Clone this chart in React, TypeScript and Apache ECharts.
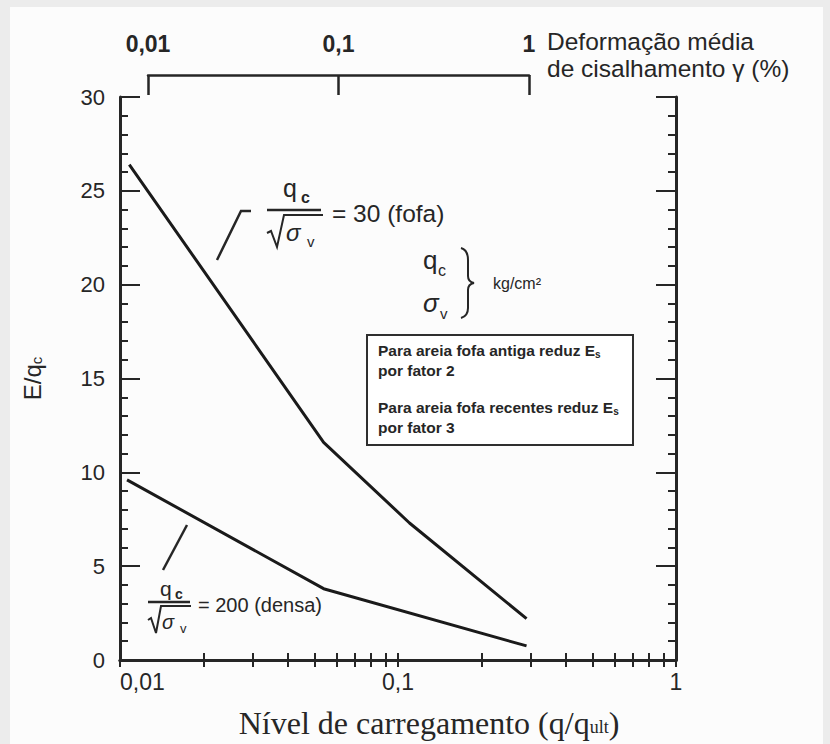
import React, { useEffect, useRef } from 'react';
import * as echarts from 'echarts';

// ---- data ----
const LOAD_FOFA = [0.0108, 0.054, 0.11, 0.29];
const EQ_FOFA = [26.4, 11.6, 7.3, 2.2];
const LOAD_DENSA = [0.0106, 0.054, 0.29];
const EQ_DENSA = [9.6, 3.8, 0.75];

const X_TICK_VALUES = [0.01, 0.02, 0.03, 0.04, 0.05, 0.06, 0.07, 0.08, 0.09, 0.1, 0.2, 0.3, 0.4, 0.5, 0.6, 0.7, 0.8, 0.9, 1];
const X_LABEL_VALUES = [0.01, 0.1, 1];
const GAMMA_VALUES = [0.01, 0.1, 1];
const Y_MIN = 0;
const Y_MAX = 30;
const Y_STEP = 5;

const SANS = '"Liberation Sans", Arial, Helvetica, sans-serif';
const SERIF = '"Liberation Serif", "Times New Roman", serif';
const INK = '#262626';

echarts.graphic.registerShape(
  'brace',
  echarts.graphic.extendPath('M461 248 Q468 250 468 260 L468 276 Q468 282 474 283 Q468 284 468 290 L468 308 Q468 316 461 318', {})
);

const fmt = (v: number) => String(Number(v.toPrecision(3))).replace('.', ',');

const txt = (x: number, y: number, text: string, fontSize: number, extra: any = {}) => ({
  type: 'text',
  x,
  y,
  style: {
    text,
    fontSize,
    fontFamily: SANS,
    fill: INK,
    align: 'left',
    verticalAlign: 'middle',
    ...extra,
  },
});

const stroke = { stroke: INK, fill: null as any };

const boxRich = {
  b: { fontSize: 15.5, fontWeight: 'bold', fontFamily: SANS, lineHeight: 20, fill: INK },
  s: { fontSize: 10, fontWeight: 'bold', fontFamily: SANS, lineHeight: 20, fill: INK, padding: [8, 0, 0, 0] },
};

const graphicElements: any[] = [
  // upper formula
  { type: 'polyline', shape: { points: [[217, 260], [241, 211], [251, 211]] }, style: { ...stroke, lineWidth: 2.5 } },
  txt(283, 188, 'q', 25),
  txt(301, 197, 'c', 16, { fontWeight: 'bold' }),
  { type: 'line', shape: { x1: 267, y1: 210, x2: 321, y2: 210 }, style: { ...stroke, lineWidth: 2.5 } },
  { type: 'polyline', shape: { points: [[267, 233], [271, 231], [277, 247], [284, 215], [323, 215]] }, style: { ...stroke, lineWidth: 2 } },
  txt(286, 232, 'σ', 24, { fontStyle: 'italic' }),
  txt(307, 241, 'v', 15),
  txt(332, 213, '= 30 (fofa)', 24.5),
  // lower formula
  { type: 'line', shape: { x1: 187, y1: 525, x2: 163, y2: 570 }, style: { ...stroke, lineWidth: 2.5 } },
  txt(160, 588, 'q', 21),
  txt(175, 594, 'c', 14, { fontWeight: 'bold' }),
  { type: 'line', shape: { x1: 148, y1: 602, x2: 190, y2: 602 }, style: { ...stroke, lineWidth: 2.5 } },
  { type: 'polyline', shape: { points: [[148, 620], [151, 618], [156, 633], [161, 606], [191, 606]] }, style: { ...stroke, lineWidth: 2 } },
  txt(162, 622, 'σ', 20, { fontStyle: 'italic' }),
  txt(180, 628, 'v', 13),
  txt(198, 605, '= 200 (densa)', 20),
  // units
  txt(423, 260, 'q', 26),
  txt(438, 270, 'c', 16),
  txt(423, 303, 'σ', 26, { fontStyle: 'italic' }),
  txt(440, 313, 'v', 15),
  { type: 'brace', x: 0, y: 0, style: { stroke: INK, fill: 'none', lineWidth: 2 } },
  txt(493, 283, 'kg/cm²', 16),
  // note box
  { type: 'rect', shape: { x: 367, y: 335, width: 266, height: 110 }, style: { fill: '#ffffff', stroke: '#2f2f2f', lineWidth: 2 } },
  {
    type: 'text',
    x: 378,
    y: 340,
    style: { text: '{b|Para areia fofa antiga reduz E}{s|s}\n{b|por fator 2}', fill: INK, verticalAlign: 'top', rich: boxRich },
  },
  {
    type: 'text',
    x: 378,
    y: 397,
    style: { text: '{b|Para areia fofa recentes reduz E}{s|s}\n{b|por fator 3}', fill: INK, verticalAlign: 'top', rich: boxRich },
  },
  // top scale title
  txt(547, 41, 'Deformação média', 24.5),
  txt(547, 68, 'de cisalhamento γ (%)', 24.5),
];

const frameLine = { show: true, lineStyle: { color: INK, width: 3 } };
const tickLine = { color: INK, width: 2 };

const option: any = {
  animation: false,
  backgroundColor: 'transparent',
  grid: [
    { left: 120, top: 97, right: 154, bottom: 82, containLabel: false },
    { left: 148, top: 65, width: 381, height: 10, containLabel: false },
  ],
  xAxis: [
    {
      type: 'log',
      gridIndex: 0,
      position: 'bottom',
      min: 0.01,
      max: 1,
      logBase: 10,
      axisLine: frameLine,
      axisTick: { show: true, inside: true, length: 7, customValues: X_TICK_VALUES, lineStyle: tickLine },
      minorTick: { show: false },
      splitLine: { show: false },
      axisLabel: {
        customValues: X_LABEL_VALUES,
        formatter: fmt,
        fontSize: 23,
        fontFamily: SANS,
        color: INK,
        margin: 10,
        alignMinLabel: 'left',
      },
      name: 'Nível de carregamento (q/q{s|ult})',
      nameLocation: 'middle',
      nameGap: 47,
      nameTextStyle: {
        fontFamily: SERIF,
        fontSize: 32,
        color: INK,
        padding: [0, 0, 0, 62],
        rich: { s: { fontFamily: SERIF, fontSize: 18, color: INK, padding: [8, 0, 0, 0] } },
      },
    },
    {
      type: 'log',
      gridIndex: 0,
      position: 'top',
      min: 0.01,
      max: 1,
      logBase: 10,
      axisLine: frameLine,
      axisTick: { show: true, inside: true, length: 7, customValues: X_TICK_VALUES, lineStyle: tickLine },
      splitLine: { show: false },
      axisLabel: { show: false },
    },
    {
      type: 'log',
      gridIndex: 1,
      position: 'top',
      min: 0.01,
      max: 1,
      logBase: 10,
      axisLine: { show: true, lineStyle: { color: INK, width: 2.5 } },
      axisTick: { show: true, inside: true, length: 20, customValues: GAMMA_VALUES, lineStyle: { color: INK, width: 2.5 } },
      splitLine: { show: false },
      axisLabel: {
        customValues: GAMMA_VALUES,
        formatter: fmt,
        fontSize: 23,
        fontWeight: 'bold',
        fontFamily: SANS,
        color: INK,
        margin: 10,
      },
    },
  ],
  yAxis: [
    {
      type: 'value',
      gridIndex: 0,
      position: 'left',
      min: Y_MIN,
      max: Y_MAX,
      interval: Y_STEP,
      axisLine: frameLine,
      axisTick: { show: true, inside: true, length: 20, lineStyle: tickLine },
      minorTick: { show: true, splitNumber: 5, length: 8, lineStyle: tickLine },
      splitLine: { show: false },
      axisLabel: { fontSize: 22, fontFamily: SANS, color: INK, margin: 15 },
      name: '{a|E/q}{b|c}',
      nameLocation: 'middle',
      nameGap: 76,
      nameTextStyle: {
        rich: {
          a: { fontSize: 24, fontFamily: SANS, color: INK },
          b: { fontSize: 15, fontFamily: SANS, color: INK, padding: [8, 0, 0, 0] },
        },
      },
    },
    {
      type: 'value',
      gridIndex: 0,
      position: 'right',
      min: Y_MIN,
      max: Y_MAX,
      interval: Y_STEP,
      axisLine: frameLine,
      axisTick: { show: true, inside: true, length: 20, lineStyle: tickLine },
      minorTick: { show: true, splitNumber: 5, length: 8, lineStyle: tickLine },
      splitLine: { show: false },
      axisLabel: { show: false },
    },
    { type: 'value', gridIndex: 1, show: false, min: 0, max: 1 },
  ],
  series: [
    {
      type: 'line',
      name: 'fofa',
      xAxisIndex: 0,
      yAxisIndex: 0,
      data: LOAD_FOFA.map((x, i) => [x, EQ_FOFA[i]]),
      showSymbol: false,
      silent: true,
      lineStyle: { color: '#1a1a1a', width: 3 },
    },
    {
      type: 'line',
      name: 'densa',
      xAxisIndex: 0,
      yAxisIndex: 0,
      data: LOAD_DENSA.map((x, i) => [x, EQ_DENSA[i]]),
      showSymbol: false,
      silent: true,
      lineStyle: { color: '#1a1a1a', width: 3 },
    },
  ],
  graphic: { elements: graphicElements },
};

export default function App() {
  const ref = useRef<HTMLDivElement>(null);
  useEffect(() => {
    const chart = echarts.init(ref.current!, null, { renderer: 'svg' });
    chart.setOption(option);
    return () => chart.dispose();
  }, []);
  return (
    <div style={{ position: 'absolute', left: 0, top: 0, width: 830, height: 744, background: '#ececec', overflow: 'hidden' }}>
      <div style={{ position: 'absolute', left: 10, top: 7, width: 813, height: 737, background: '#fcfcfc' }} />
      <div ref={ref} style={{ position: 'absolute', left: 0, top: 0, width: 830, height: 744 }} />
    </div>
  );
}
